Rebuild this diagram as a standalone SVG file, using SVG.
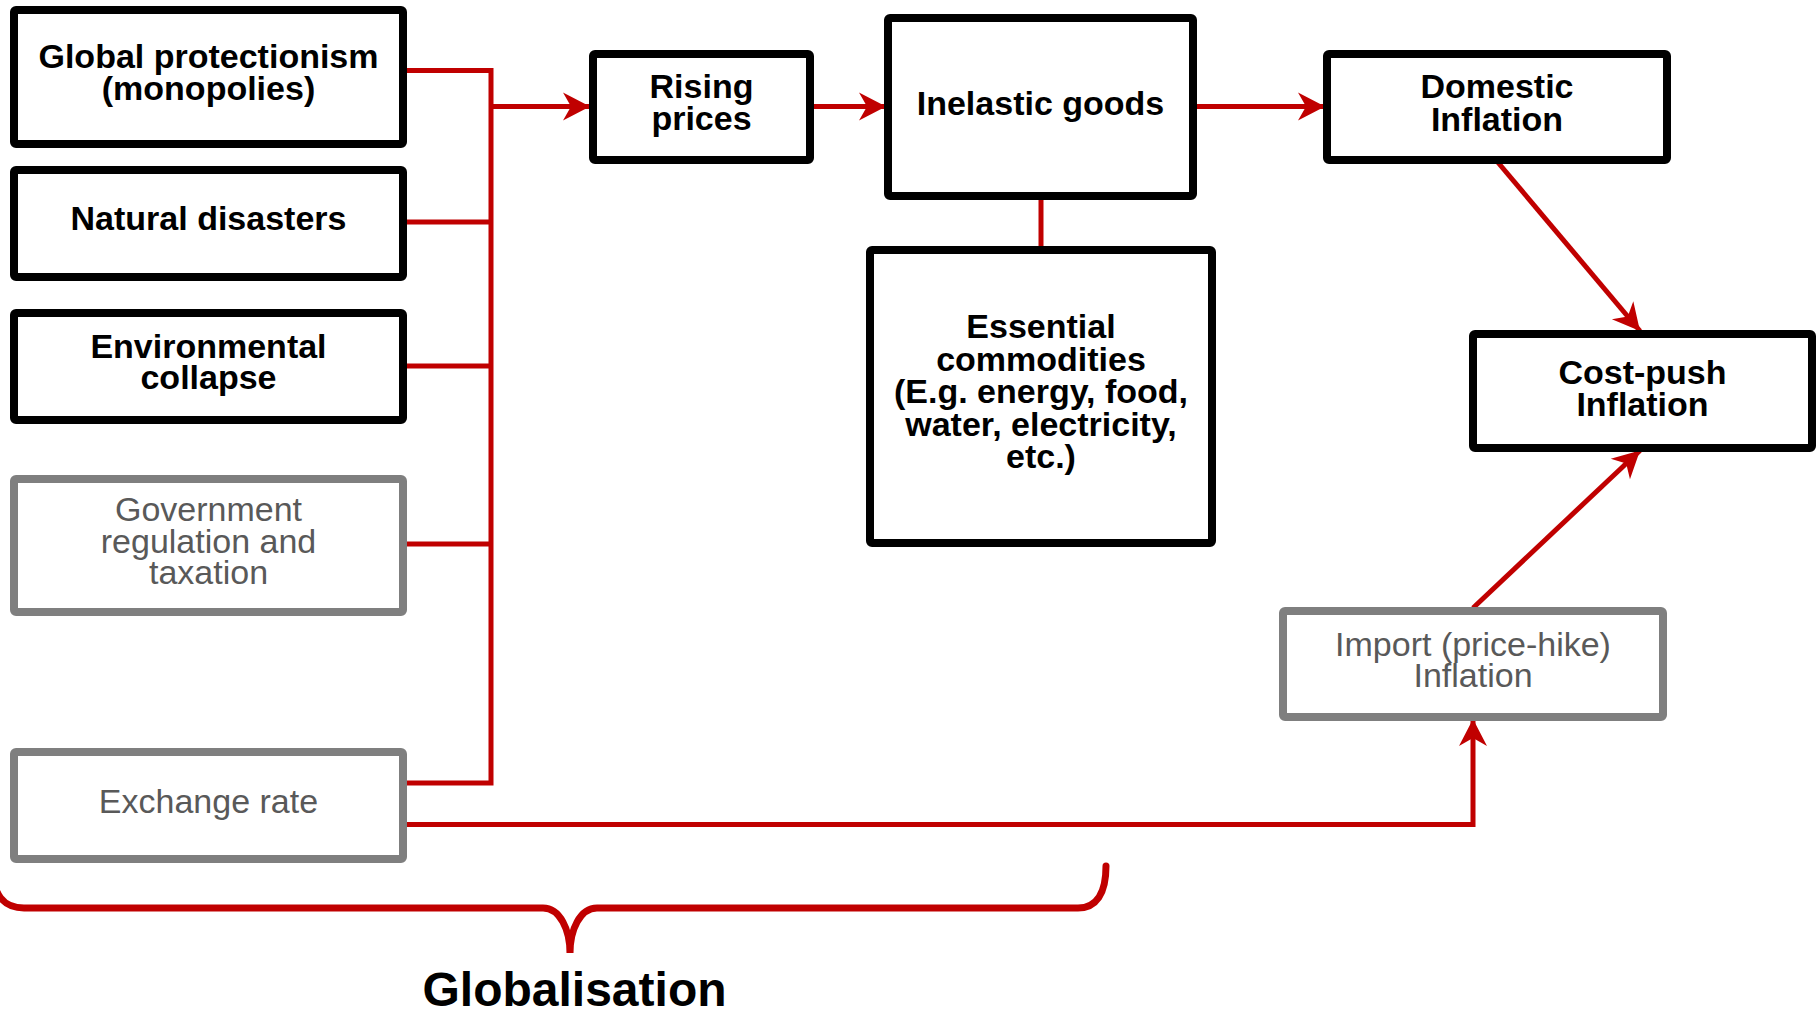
<svg xmlns="http://www.w3.org/2000/svg" width="1816" height="1016" viewBox="0 0 1816 1016">
<style>
.box{fill:#fff;stroke:#000;stroke-width:8}
.gbox{fill:#fff;stroke:#7f7f7f;stroke-width:8}
.t{font-family:"Liberation Sans",Arial,sans-serif;font-size:34px;font-weight:bold;text-anchor:middle;fill:#000}
.gt{font-family:"Liberation Sans",Arial,sans-serif;font-size:34px;text-anchor:middle;fill:#595959}
.c{stroke:#c00000;stroke-width:5;fill:none}
.a{marker-end:url(#ah)}
</style>
<defs>
<marker id="ah" markerUnits="userSpaceOnUse" markerWidth="34" markerHeight="34" viewBox="-30 -17 34 34" refX="0" refY="0" orient="auto">
<path d="M0,0 L-27,-14 L-19,0 L-27,14 Z" fill="#c00000"/>
</marker>
</defs>
<rect width="1816" height="1016" fill="#fff"/>
<g id="connectors">
<path class="c" d="M405,70.6 H491 V783 H405"/>
<path class="c" d="M405,222 H491 M405,366 H491 M405,544 H491"/>
<path class="c a" d="M491,106.6 H590"/>
<path class="c a" d="M812,106.6 H886"/>
<path class="c a" d="M1195,106.6 H1325"/>
<path class="c" d="M1041,198 V247"/>
<path class="c a" d="M1497.6,162 L1640,331"/>
<path class="c a" d="M1473,608 L1640,450.5"/>
<path class="c a" d="M405,824.6 H1473 V719"/>
</g>
<g id="n-global"><rect class="box" x="14" y="10" width="389" height="134" rx="2"/><text class="t"><tspan x="208.5" y="68">Global protectionism</tspan><tspan x="208.5" y="99.5">(monopolies)</tspan></text></g>
<g id="n-natural"><rect class="box" x="14" y="170" width="389" height="107" rx="2"/><text class="t" x="208.5" y="230">Natural disasters</text></g>
<g id="n-env"><rect class="box" x="14" y="313" width="389" height="107" rx="2"/><text class="t"><tspan x="208.5" y="358">Environmental</tspan><tspan x="208.5" y="389">collapse</tspan></text></g>
<g id="n-gov"><rect class="gbox" x="14" y="479" width="389" height="133" rx="2"/><text class="gt"><tspan x="208.5" y="520.5">Government</tspan><tspan x="208.5" y="552.5">regulation and</tspan><tspan x="208.5" y="584">taxation</tspan></text></g>
<g id="n-exchange"><rect class="gbox" x="14" y="752" width="389" height="107" rx="2"/><text class="gt" x="208.5" y="812.5">Exchange rate</text></g>
<g id="n-rising"><rect class="box" x="593" y="54" width="217" height="106" rx="2"/><text class="t"><tspan x="701.5" y="97.5">Rising</tspan><tspan x="701.5" y="129.5">prices</tspan></text></g>
<g id="n-inelastic"><rect class="box" x="888" y="18" width="305" height="178" rx="2"/><text class="t" x="1040.5" y="114.5">Inelastic goods</text></g>
<g id="n-essential"><rect class="box" x="870" y="250" width="342" height="293" rx="2"/><text class="t"><tspan x="1041" y="338">Essential</tspan><tspan x="1041" y="370.5">commodities</tspan><tspan x="1041" y="403">(E.g. energy, food,</tspan><tspan x="1041" y="435.5">water, electricity,</tspan><tspan x="1041" y="468">etc.)</tspan></text></g>
<g id="n-domestic"><rect class="box" x="1327" y="54" width="340" height="106" rx="2"/><text class="t"><tspan x="1497" y="98">Domestic</tspan><tspan x="1497" y="130.5">Inflation</tspan></text></g>
<g id="n-costpush"><rect class="box" x="1473" y="334" width="339" height="114" rx="2"/><text class="t"><tspan x="1642.5" y="383.5">Cost-push</tspan><tspan x="1642.5" y="415.5">Inflation</tspan></text></g>
<g id="n-import"><rect class="gbox" x="1283" y="611" width="380" height="106" rx="2"/><text class="gt"><tspan x="1473" y="655.5">Import (price-hike)</tspan><tspan x="1473" y="687">Inflation</tspan></text></g>
<g id="brace">
<path d="M-8,862 C-8,896 4,908 24,908 L543,908 C560,908 570,930 570,953 C570,930 580,908 597,908 L1078,908 C1096,908 1106,894 1106,866" fill="none" stroke="#c00000" stroke-width="7" stroke-linecap="round"/>
<text x="574.5" y="1006" font-family="Liberation Sans, Arial, sans-serif" font-size="48" font-weight="bold" text-anchor="middle" fill="#000">Globalisation</text>
</g>
</svg>
